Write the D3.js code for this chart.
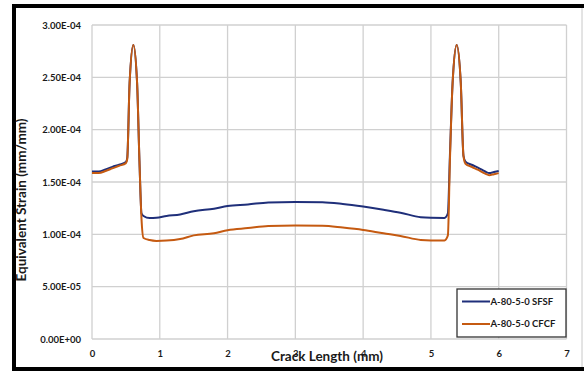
<!DOCTYPE html>
<html>
<head>
<meta charset="utf-8">
<script src="https://cdn.jsdelivr.net/npm/d3@7"></script>
<style>
  html, body { margin: 0; padding: 0; background: #fff; }
  svg { display: block; }
  text { font-family: Lato, "Open Sans", "Liberation Sans", sans-serif; font-weight: 700; fill: #1a1a1a; }
</style>
</head>
<body>
<svg id="chart" width="584" height="371"></svg>
<script>
// Crack length positions (mm)
const crackLength = [0, 0.1, 0.2, 0.3, 0.4, 0.5, 0.52, 0.555, 0.61, 0.665, 0.70, 0.73, 0.76, 0.85, 0.95,
  1.1, 1.3, 1.5, 1.8, 2.0, 2.3, 2.6, 3.0, 3.4, 3.7, 4.0, 4.3, 4.55, 4.85, 5.0, 5.2, 5.25, 5.28, 5.32,
  5.38, 5.44, 5.48, 5.51, 5.6, 5.7, 5.8, 5.86, 5.93, 6.0];

// Equivalent strain, in units of 1e-4 mm/mm
const sfsfStrain = [1.60, 1.60, 1.62, 1.645, 1.665, 1.69, 1.73, 2.45, 2.81, 2.45, 1.70, 1.20, 1.175, 1.155, 1.158,
  1.175, 1.19, 1.22, 1.245, 1.27, 1.285, 1.305, 1.31, 1.307, 1.29, 1.265, 1.235, 1.207, 1.163, 1.158, 1.157, 1.20, 1.75, 2.45,
  2.81, 2.45, 1.75, 1.695, 1.665, 1.635, 1.60, 1.585, 1.595, 1.605];

const cfcfStrain = [1.585, 1.585, 1.605, 1.63, 1.655, 1.68, 1.72, 2.45, 2.81, 2.45, 1.70, 1.15, 0.965, 0.945, 0.937,
  0.94, 0.955, 0.99, 1.01, 1.04, 1.06, 1.08, 1.085, 1.083, 1.065, 1.042, 1.01, 0.985, 0.946, 0.942, 0.942, 0.99, 1.70, 2.45,
  2.81, 2.45, 1.75, 1.675, 1.645, 1.615, 1.58, 1.565, 1.575, 1.585];

const seriesNames = ["A-80-5-0 SFSF", "A-80-5-0 CFCF"];
const seriesColors = ["#1f2f7a", "#c55a11"];

const xTicks = [0, 1, 2, 3, 4, 5, 6, 7];
const yTicks = [0, 0.5, 1.0, 1.5, 2.0, 2.5, 3.0];
const yTickLabels = ["0.00E+00", "5.00E-05", "1.00E-04", "1.50E-04", "2.00E-04", "2.50E-04", "3.00E-04"];

const svg = d3.select("#chart");

// Outer frame
svg.append("rect").attr("x", 12).attr("y", 4).attr("width", 572).attr("height", 4).attr("fill", "#000");
svg.append("rect").attr("x", 12).attr("y", 4).attr("width", 4).attr("height", 367).attr("fill", "#000");
svg.append("rect").attr("x", 12).attr("y", 367).attr("width", 572).attr("height", 4).attr("fill", "#000");
svg.append("line").attr("x1", 582).attr("x2", 582).attr("y1", 8).attr("y2", 367)
  .attr("stroke", "#c8c8c8").attr("stroke-width", 1);

const x = d3.scaleLinear().domain([0, 7]).range([92, 566.5]);
const y = d3.scaleLinear().domain([0, 3]).range([339, 25]);

// Grid
const grid = svg.append("g").attr("stroke", "#d0d0d0").attr("stroke-width", 1.3);
grid.selectAll(".gx").data(xTicks).join("line")
  .attr("x1", d => x(d)).attr("x2", d => x(d)).attr("y1", y(0)).attr("y2", y(3));
grid.selectAll(".gy").data(yTicks).join("line")
  .attr("x1", x(0)).attr("x2", x(7)).attr("y1", d => y(d)).attr("y2", d => y(d));

// Axes (labels only; lines come from the grid)
const xAxis = svg.append("g").attr("transform", `translate(0,${y(0)})`)
  .call(d3.axisBottom(x).tickValues(xTicks).tickSize(0).tickPadding(11).tickFormat(d3.format("d")));
const yAxis = svg.append("g").attr("transform", `translate(${x(0)},0)`)
  .call(d3.axisLeft(y).tickValues(yTicks).tickSize(0).tickPadding(11).tickFormat((d, i) => yTickLabels[i]));
[xAxis, yAxis].forEach(a => {
  a.select(".domain").remove();
  a.selectAll("text").attr("font-size", 9.5).attr("font-family", "Lato, sans-serif")
    .attr("font-weight", 700).attr("fill", "#1a1a1a");
});

// Series lines
const line = d3.line().curve(d3.curveMonotoneX)
  .x((d, i) => x(crackLength[i])).y(d => y(d));
[sfsfStrain, cfcfStrain].forEach((s, k) => {
  svg.append("path").datum(s).attr("d", line).attr("fill", "none")
    .attr("stroke", seriesColors[k]).attr("stroke-width", 2).attr("stroke-linejoin", "round");
});

// Axis titles
svg.append("text").attr("x", 327).attr("y", 361).attr("text-anchor", "middle")
  .attr("font-size", 13.5).text("Crack Length (mm)");
svg.append("text").attr("transform", "translate(26,200) rotate(-90)").attr("text-anchor", "middle")
  .attr("font-size", 13.5).text("Equivalent Strain (mm/mm)");

// Legend
const lg = svg.append("g");
lg.append("rect").attr("x", 457).attr("y", 289).attr("width", 109).attr("height", 48)
  .attr("fill", "#fff").attr("stroke", "#333").attr("stroke-width", 1.3);
seriesNames.forEach((n, k) => {
  const ly = 301.5 + k * 22.5;
  lg.append("line").attr("x1", 462).attr("x2", 490).attr("y1", ly).attr("y2", ly)
    .attr("stroke", seriesColors[k]).attr("stroke-width", 2);
  lg.append("text").attr("x", 490.5).attr("y", ly).attr("dy", "0.35em")
    .attr("font-size", 9.5).text(n);
});
</script>
</body>
</html>
